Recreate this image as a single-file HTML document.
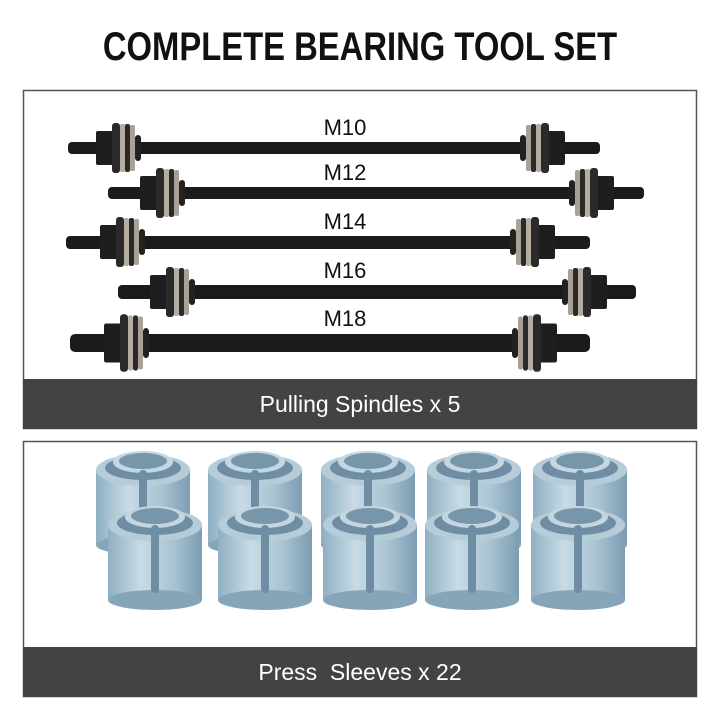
<!DOCTYPE html>
<html><head><style>
body{margin:0;background:#fff;width:720px;height:720px;overflow:hidden;font-family:"Liberation Sans",sans-serif}
</style></head><body>
<svg width="720" height="720" viewBox="0 0 720 720" xmlns="http://www.w3.org/2000/svg">
<defs>
<linearGradient id="sl" x1="0" x2="1" y1="0" y2="0">
<stop offset="0" stop-color="#8fb0c3"/><stop offset="0.35" stop-color="#c9dbe6"/><stop offset="0.7" stop-color="#a8c3d3"/><stop offset="1" stop-color="#7c9db2"/></linearGradient>
<g id="nut"><rect x="-22" y="-17" width="18" height="34" rx="2" fill="#1e1e1e"/><rect x="-6" y="-25" width="8" height="50" rx="3" fill="#2a2a2a"/><rect x="2" y="-24" width="5" height="48" rx="2" fill="#b5ada0"/><rect x="7" y="-24" width="5" height="48" rx="2" fill="#2a2a2a"/><rect x="12" y="-23" width="5" height="46" rx="2" fill="#a9a196"/><rect x="17" y="-13" width="6" height="26" rx="3" fill="#222"/></g>
<g id="sv"><rect x="-47" y="-20" width="94" height="75" fill="url(#sl)"/><ellipse cx="0" cy="55" rx="47" ry="10" fill="#86a5b8"/><ellipse cx="0" cy="-20" rx="47" ry="16" fill="#b6ccd9"/><ellipse cx="0" cy="-22" rx="38" ry="12" fill="#6f8ea3"/><ellipse cx="0" cy="-28" rx="30" ry="11" fill="#c4d6e1"/><ellipse cx="0" cy="-29" rx="24" ry="8" fill="#7896aa"/><rect x="-4" y="-20" width="8" height="68" rx="4" fill="#6f8ea3"/></g>
</defs>
<text x="360" y="60" text-anchor="middle" font-family="Liberation Sans" font-weight="bold" font-size="40" transform="translate(360,0) scale(0.82,1) translate(-360,0)" fill="#111">COMPLETE BEARING TOOL SET</text>
<rect x="23.5" y="90.5" width="673" height="338" fill="#fff" stroke="#555" stroke-width="1.5"/>
<g fill="#1b1b1b">
<rect x="68" y="142" width="532" height="12" rx="4"/>
<rect x="108" y="187" width="536" height="12" rx="4"/>
<rect x="66" y="236" width="524" height="13" rx="4"/>
<rect x="118" y="285" width="518" height="14" rx="4"/>
<rect x="70" y="334" width="520" height="18" rx="5"/>
</g>
<use href="#nut" transform="translate(118,148)"/>
<use href="#nut" transform="translate(543,148) scale(-1,1)"/>
<use href="#nut" transform="translate(162,193)"/>
<use href="#nut" transform="translate(592,193) scale(-1,1)"/>
<use href="#nut" transform="translate(122,242)"/>
<use href="#nut" transform="translate(533,242) scale(-1,1)"/>
<use href="#nut" transform="translate(172,292)"/>
<use href="#nut" transform="translate(585,292) scale(-1,1)"/>
<use href="#nut" transform="translate(126,343) scale(1,1.15)"/>
<use href="#nut" transform="translate(535,343) scale(-1,1.15)"/>
<g font-size="22" fill="#111" text-anchor="middle">
<text x="345" y="135">M10</text><text x="345" y="180">M12</text><text x="345" y="229">M14</text><text x="345" y="278">M16</text><text x="345" y="326">M18</text>
</g>
<rect x="23" y="379" width="674" height="50" fill="#434343"/>
<text x="360" y="412" text-anchor="middle" font-size="23" fill="#fff">Pulling Spindles x 5</text>
<rect x="23.5" y="441.5" width="673" height="255" fill="#fff" stroke="#555" stroke-width="1.5"/>
<use href="#sv" transform="translate(143,490)"/>
<use href="#sv" transform="translate(255,490)"/>
<use href="#sv" transform="translate(368,490)"/>
<use href="#sv" transform="translate(474,490)"/>
<use href="#sv" transform="translate(580,490)"/>
<use href="#sv" transform="translate(155,545)"/>
<use href="#sv" transform="translate(265,545)"/>
<use href="#sv" transform="translate(370,545)"/>
<use href="#sv" transform="translate(472,545)"/>
<use href="#sv" transform="translate(578,545)"/>
<rect x="23" y="647" width="674" height="50" fill="#434343"/>
<text x="360" y="680" text-anchor="middle" font-size="23" fill="#fff" xml:space="preserve">Press  Sleeves x 22</text>
</svg>
</body></html>
